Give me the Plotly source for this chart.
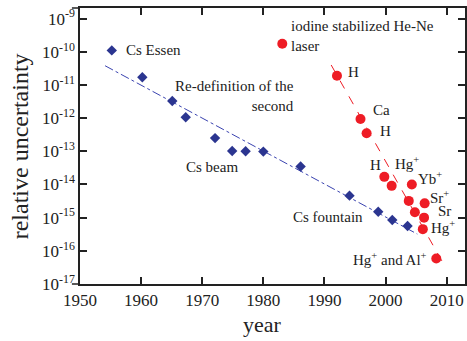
import plotly.graph_objects as go

# Blue: Cs clocks
cs_years = [1955.2, 1960.2, 1965.1, 1967.3, 1972.1, 1974.9, 1977.1, 1980.0, 1986.1, 1994.1, 1998.8, 2001.1, 2003.6]
cs_unc = [1.1e-10, 1.7e-11, 3.3e-12, 1.06e-12, 2.5e-13, 1.02e-13, 1.0e-13, 9.8e-14, 3.5e-14, 4.6e-15, 1.5e-15, 8.5e-16, 5.6e-16]
cs_trend_years = [1954.1, 2005.2]
cs_trend_unc = [3.8e-11, 3.2e-16]

# Red: optical clocks
opt_years = [1983.1, 1992.05, 1995.9, 1996.9, 1999.8, 2001.0, 2004.3, 2003.8, 2006.4, 2004.8, 2006.3, 2006.1, 2008.3]
opt_unc = [1.75e-10, 1.9e-11, 9.4e-13, 3.5e-13, 1.7e-14, 9.1e-15, 1.0e-14, 3.2e-15, 2.7e-15, 1.45e-15, 1.0e-15, 4.5e-16, 5.9e-17]
opt_trend_years = [1991.1, 2009.8]
opt_trend_unc = [4.0e-11, 3.2e-17]

x_ticks = [1950, 1960, 1970, 1980, 1990, 2000, 2010]
y_exps = list(range(-17, -8))
y_ticks = [10.0 ** e for e in y_exps]
y_ticktext = ["10<sup>%d</sup>" % e for e in y_exps]

labels = [
    ("Cs Essen", 1957.16, -9.946, "left"),
    ("Re-definition of the<br>second", 1985.33, -11.33, "right"),
    ("Cs beam", 1971.57, -13.46, "center"),
    ("iodine stabilized He-Ne<br>laser", 1984.19, -9.51, "left"),
    ("H", 1994.77, -10.60, "center"),
    ("Ca", 1999.38, -11.755, "center"),
    ("H", 1999.94, -12.39, "center"),
    ("H", 1998.31, -13.41, "center"),
    ("Hg<sup>+</sup>", 2003.45, -13.36, "center"),
    ("Yb<sup>+</sup>", 2007.26, -13.80, "center"),
    ("Sr<sup>+</sup>", 2008.89, -14.37, "center"),
    ("Sr", 2009.70, -14.80, "center"),
    ("Hg<sup>+</sup>", 2009.43, -15.27, "center"),
    ("Hg<sup>+</sup> and Al<sup>+</sup>", 2000.68, -16.25, "center"),
    ("Cs fountain", 1990.5, -14.97, "center"),
]

FONT = "Liberation Serif"
BLUE = "#2B3590"
RED = "#EE1C25"
INK = "#222222"

fig = go.Figure()
fig.add_trace(go.Scatter(x=cs_trend_years, y=cs_trend_unc, mode="lines",
                         line=dict(color="#3A43B0", width=1, dash="dashdot"), showlegend=False))
fig.add_trace(go.Scatter(x=opt_trend_years, y=opt_trend_unc, mode="lines",
                         line=dict(color=RED, width=1, dash="dash"), showlegend=False))
fig.add_trace(go.Scatter(x=cs_years, y=cs_unc, mode="markers",
                         marker=dict(symbol="diamond", size=8, color=BLUE), showlegend=False))
fig.add_trace(go.Scatter(x=opt_years, y=opt_unc, mode="markers",
                         marker=dict(symbol="circle", size=10, color=RED), showlegend=False))

for text, xv, yv, al in labels:
    fig.add_annotation(x=xv, y=yv, xref="x", yref="y", text=text, showarrow=False,
                       xanchor=al, yanchor="middle", align=al,
                       font=dict(family=FONT, size=15, color=INK))

fig.add_annotation(x=0.473, y=-0.147, xref="paper", yref="paper", text="year", showarrow=False,
                   xanchor="center", yanchor="middle", font=dict(family=FONT, size=22, color=INK))
fig.add_annotation(x=-0.155, y=0.5, xref="paper", yref="paper", text="relative uncertainty",
                   showarrow=False, textangle=-90, xanchor="center", yanchor="middle",
                   font=dict(family=FONT, size=24, color=INK))

# short extensions of the top and bottom spines to the left
for yp in (0, 1):
    fig.add_shape(type="line", xref="paper", yref="paper", x0=-0.021, x1=0, y0=yp, y1=yp,
                  line=dict(color=INK, width=1.5))

fig.update_xaxes(range=[1950, 2013], tickvals=x_ticks, ticks="inside", ticklen=7, tickwidth=1.5,
                 tickcolor=INK, showline=True, linecolor=INK, linewidth=1.5, mirror="ticks",
                 showgrid=False, zeroline=False, tickfont=dict(family=FONT, size=17, color=INK))
fig.update_yaxes(type="log", range=[-17, -8.68], tickvals=y_ticks, ticktext=y_ticktext,
                 ticks="inside", ticklen=7, tickwidth=1.5, tickcolor=INK, showline=True,
                 linecolor=INK, linewidth=1.5, mirror="ticks", showgrid=False, zeroline=False,
                 tickfont=dict(family=FONT, size=17, color=INK))

fig.update_layout(width=467, height=341, margin=dict(l=80, r=0, t=8, b=57),
                  plot_bgcolor="white", paper_bgcolor="white")

fig.write_html("out.html")
